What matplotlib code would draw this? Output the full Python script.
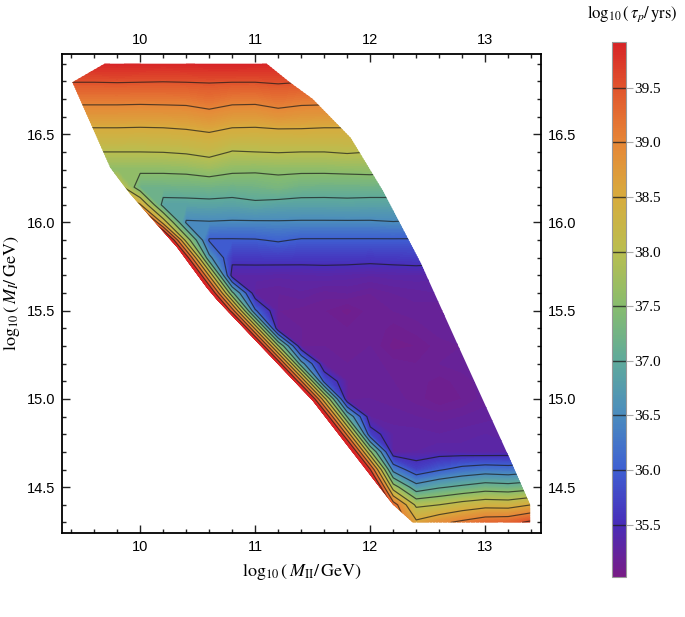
import numpy as np
import matplotlib
matplotlib.use("Agg")
import matplotlib.pyplot as plt
from matplotlib.colors import LinearSegmentedColormap, Normalize
from matplotlib.patches import Polygon
from matplotlib.ticker import MultipleLocator
import matplotlib.cm as cm

plt.rcParams['mathtext.fontset'] = 'stix'

# grid of log10(M_II/GeV) columns and log10(M_I/GeV) rows
m2_cols = [9.4, 9.6, 9.8, 10.0, 10.2, 10.4, 10.6, 10.8, 11.0, 11.2, 11.4,
           11.6, 11.8, 12.0, 12.2, 12.4, 12.6, 12.8, 13.0, 13.2, 13.4]
m1_rows = [16.9, 16.8, 16.7, 16.6, 16.5, 16.4, 16.3, 16.2, 16.1, 16.0, 15.9,
           15.8, 15.7, 15.6, 15.5, 15.4, 15.3, 15.2, 15.1, 15.0, 14.9,
           14.8, 14.7, 14.6, 14.5, 14.4, 14.3]

# log10(tau_p / yrs), one list per row (top to bottom)
tau_169 = [39.90, 39.90, 39.91, 39.90, 39.89, 39.90, 39.92, 39.93, 39.91, 39.90, 39.90,
           39.90, 39.90, 39.90, 39.90, 39.90, 39.90, 39.90, 39.90, 39.90, 39.90]
tau_168 = [39.52, 39.52, 39.53, 39.52, 39.51, 39.52, 39.53, 39.52, 39.52, 39.55, 39.52,
           39.52, 39.52, 39.52, 39.52, 39.52, 39.52, 39.52, 39.52, 39.52, 39.52]
tau_167 = [39.13, 39.13, 39.13, 39.12, 39.13, 39.14, 39.22, 39.13, 39.12, 39.20, 39.14,
           39.13, 39.13, 39.13, 39.13, 39.13, 39.13, 39.13, 39.13, 39.13, 39.13]
tau_166 = [38.74, 38.74, 38.74, 38.73, 38.74, 38.76, 38.84, 38.74, 38.73, 38.82, 38.76,
           38.74, 38.74, 38.74, 38.74, 38.74, 38.74, 38.74, 38.74, 38.74, 38.74]
tau_165 = [38.36, 38.36, 38.36, 38.35, 38.36, 38.40, 38.46, 38.36, 38.35, 38.36, 38.38,
           38.36, 38.36, 38.36, 38.36, 38.36, 38.36, 38.36, 38.36, 38.36, 38.36]
tau_164 = [38.00, 38.00, 38.00, 38.00, 38.01, 38.05, 38.14, 37.98, 38.00, 38.02, 38.00,
           38.00, 38.04, 38.00, 38.00, 38.00, 38.00, 38.00, 38.00, 38.00, 38.00]
tau_163 = [37.58, 37.58, 37.58, 37.58, 37.58, 37.60, 37.68, 37.58, 37.56, 37.58, 37.58,
           37.58, 37.60, 37.62, 37.58, 37.58, 37.58, 37.58, 37.58, 37.58, 37.58]
tau_162 = [37.90, 37.90, 38.30, 37.21, 37.21, 37.22, 37.24, 37.21, 37.24, 37.32, 37.22,
           37.21, 37.21, 37.21, 37.21, 37.21, 37.21, 37.21, 37.21, 37.21, 37.21]
tau_161 = [39.00, 39.00, 39.00, 38.55, 36.85, 36.86, 36.88, 36.85, 36.92, 36.86, 36.85,
           36.85, 36.87, 36.85, 36.85, 36.85, 36.85, 36.85, 36.85, 36.85, 36.85]
tau_160 = [41.00, 41.00, 41.00, 41.00, 38.32, 36.45, 36.47, 36.45, 36.45, 36.46, 36.45,
           36.45, 36.45, 36.45, 36.48, 36.45, 36.45, 36.45, 36.45, 36.45, 36.45]
tau_159 = [42.00, 42.00, 42.00, 42.00, 41.00, 37.82, 35.96, 35.96, 35.97, 36.04, 35.96,
           35.96, 35.96, 35.96, 35.96, 35.96, 35.96, 35.96, 35.96, 35.96, 35.96]
tau_158 = [42.00, 42.00, 42.00, 42.00, 42.00, 39.82, 36.62, 35.62, 35.62, 35.63, 35.62,
           35.62, 35.62, 35.60, 35.62, 35.64, 35.62, 35.62, 35.62, 35.62, 35.62]
tau_157 = [42.00, 42.00, 42.00, 42.00, 42.00, 41.66, 38.46, 35.32, 35.33, 35.31, 35.32,
           35.34, 35.32, 35.30, 35.32, 35.33, 35.31, 35.32, 35.33, 35.32, 35.32]
tau_156 = [42.00, 42.00, 42.00, 42.00, 42.00, 42.00, 40.32, 37.12, 35.24, 35.22, 35.25,
           35.20, 35.22, 35.18, 35.22, 35.24, 35.26, 35.25, 35.24, 35.26, 35.25]
tau_155 = [42.00, 42.00, 42.00, 42.00, 42.00, 42.00, 42.00, 39.26, 36.06, 35.18, 35.16,
           35.14, 35.08, 35.16, 35.18, 35.20, 35.18, 35.16, 35.20, 35.22, 35.22]
tau_154 = [42.00, 42.00, 42.00, 42.00, 42.00, 42.00, 42.00, 41.60, 38.40, 35.20, 35.18,
           35.16, 35.14, 35.18, 35.12, 35.16, 35.20, 35.18, 35.20, 35.22, 35.22]
tau_153 = [42.00, 42.00, 42.00, 42.00, 42.00, 42.00, 42.00, 42.00, 40.75, 37.55, 35.17,
           35.18, 35.16, 35.18, 35.08, 35.10, 35.16, 35.18, 35.20, 35.20, 35.20]
tau_152 = [42.00, 42.00, 42.00, 42.00, 42.00, 42.00, 42.00, 42.00, 42.00, 39.90, 36.70,
           35.20, 35.18, 35.20, 35.16, 35.14, 35.18, 35.20, 35.22, 35.20, 35.20]
tau_151 = [42.00, 42.00, 42.00, 42.00, 42.00, 42.00, 42.00, 42.00, 42.00, 42.00, 39.06,
           35.86, 35.22, 35.20, 35.18, 35.16, 35.12, 35.16, 35.20, 35.22, 35.22]
tau_150 = [42.00, 42.00, 42.00, 42.00, 42.00, 42.00, 42.00, 42.00, 42.00, 42.00, 41.40,
           38.20, 35.20, 35.22, 35.20, 35.16, 35.10, 35.14, 35.20, 35.22, 35.22]
tau_149 = [42.00, 42.00, 42.00, 42.00, 42.00, 42.00, 42.00, 42.00, 42.00, 42.00, 42.00,
           40.16, 36.96, 35.25, 35.24, 35.22, 35.20, 35.22, 35.24, 35.26, 35.26]
tau_148 = [42.00, 42.00, 42.00, 42.00, 42.00, 42.00, 42.00, 42.00, 42.00, 42.00, 42.00,
           42.00, 38.88, 35.68, 35.28, 35.28, 35.26, 35.28, 35.30, 35.28, 35.30]
tau_147 = [42.00, 42.00, 42.00, 42.00, 42.00, 42.00, 42.00, 42.00, 42.00, 42.00, 42.00,
           42.00, 40.80, 37.60, 35.25, 35.30, 35.34, 35.32, 35.30, 35.32, 35.34]
tau_146 = [42.00, 42.00, 42.00, 42.00, 42.00, 42.00, 42.00, 42.00, 42.00, 42.00, 42.00,
           42.00, 42.00, 39.52, 36.32, 35.70, 35.95, 36.15, 36.25, 36.20, 36.30]
tau_145 = [42.00, 42.00, 42.00, 42.00, 42.00, 42.00, 42.00, 42.00, 42.00, 42.00, 42.00,
           42.00, 42.00, 41.00, 37.76, 36.70, 36.95, 37.10, 37.25, 37.20, 37.30]
tau_144 = [42.00, 42.00, 42.00, 42.00, 42.00, 42.00, 42.00, 42.00, 42.00, 42.00, 42.00,
           42.00, 42.00, 42.00, 39.26, 37.90, 38.00, 38.20, 38.33, 38.30, 38.50]
tau_143 = [42.00, 42.00, 42.00, 42.00, 42.00, 42.00, 42.00, 42.00, 42.00, 42.00, 42.00,
           42.00, 42.00, 42.00, 39.50, 38.60, 38.90, 39.10, 39.30, 39.35, 39.60]

# outline of the allowed region
edge_m2 = [9.41, 9.69, 11.10, 11.30, 11.50, 11.83, 12.11, 12.44, 12.78, 13.20, 13.39,
           13.39, 12.37, 12.20, 11.50, 10.67, 10.58, 10.32, 10.09, 9.91, 9.74]
edge_m1 = [16.795, 16.90, 16.90, 16.795, 16.70, 16.48, 16.18, 15.77, 15.28, 14.68, 14.40,
           14.30, 14.30, 14.40, 14.99, 15.56, 15.63, 15.86, 16.03, 16.165, 16.31]

contour_levels = [35.5, 36.0, 36.5, 37.0, 37.5, 38.0, 38.5, 39.0, 39.5]
cbar_ticks = contour_levels
tau_min, tau_max = 35.02, 39.92

rainbow = LinearSegmentedColormap.from_list("rainbow_m", [
    (0.000, (120/255, 28/255, 134/255)),
    (0.098, (72/255, 45/255, 185/255)),
    (0.200, (62/255, 95/255, 210/255)),
    (0.302, (75/255, 140/255, 190/255)),
    (0.404, (95/255, 170/255, 155/255)),
    (0.506, (135/255, 188/255, 110/255)),
    (0.608, (185/255, 190/255, 80/255)),
    (0.710, (215/255, 172/255, 62/255)),
    (0.812, (230/255, 135/255, 55/255)),
    (0.914, (225/255, 85/255, 45/255)),
    (1.000, (215/255, 35/255, 38/255)),
])
norm = Normalize(tau_min, tau_max)

tau = np.array([tau_169, tau_168, tau_167, tau_166, tau_165, tau_164, tau_163, tau_162,
                tau_161, tau_160, tau_159, tau_158, tau_157, tau_156, tau_155, tau_154,
                tau_153, tau_152, tau_151, tau_150, tau_149, tau_148, tau_147, tau_146,
                tau_145, tau_144, tau_143])
X, Y = np.meshgrid(m2_cols, m1_rows)

fig = plt.figure(figsize=(6.85, 6.17), dpi=100)
ax = fig.add_axes([0.0905, 0.1361, 0.6993, 0.7764])

region = Polygon(np.column_stack([edge_m2, edge_m1]), closed=True,
                 facecolor='none', edgecolor='none', transform=ax.transData)
ax.add_patch(region)

fill = ax.contourf(X, Y, tau, levels=np.arange(34.9, 42.05, 0.04),
                   cmap=rainbow, norm=norm)
fill.set_clip_path(region)
lines = ax.contour(X, Y, tau, levels=contour_levels, colors='#1a1a1a',
                   linewidths=0.85, alpha=0.7)
lines.set_clip_path(region)

ax.set_xlim(9.32, 13.485)
ax.set_ylim(14.24, 16.955)
ax.xaxis.set_major_locator(MultipleLocator(1))
ax.xaxis.set_minor_locator(MultipleLocator(0.2))
ax.yaxis.set_major_locator(MultipleLocator(0.5))
ax.yaxis.set_minor_locator(MultipleLocator(0.1))
ax.yaxis.set_major_formatter(plt.FuncFormatter(lambda v, p: f"{v:.1f}"))
ax.tick_params(which='both', direction='in', top=True, right=True,
               labeltop=True, labelright=True, width=1.0, color='#222222')
ax.tick_params(which='major', length=6, labelsize=10.5, pad=5)
ax.tick_params(which='minor', length=3)
for lab in ax.get_xticklabels() + ax.get_yticklabels():
    lab.set_fontfamily('Liberation Sans')
for sp in ax.spines.values():
    sp.set_linewidth(1.3)

ax.set_xlabel(r'$\log_{10}(\,M_{\rm II}/\,{\rm GeV})$', fontsize=13, labelpad=6)
ax.set_ylabel(r'$\log_{10}(\,M_{I}/\,{\rm GeV})$', fontsize=13, labelpad=3)

cax = fig.add_axes([0.8934, 0.0648, 0.0205, 0.8671])
sm = cm.ScalarMappable(norm=norm, cmap=rainbow)
cb = fig.colorbar(sm, cax=cax, ticks=cbar_ticks)
cb.outline.set_edgecolor('#999999')
cb.outline.set_linewidth(0.8)
for lv in contour_levels:
    cax.axhline(lv, color='#222222', lw=1.0, alpha=0.8)
cax.tick_params(length=5, width=0.8, color='#aaaaaa', labelsize=11, pad=1)
cax.yaxis.set_major_formatter(plt.FuncFormatter(lambda v, p: f"{v:.1f}"))
for lab in cax.get_yticklabels():
    lab.set_fontfamily('Liberation Serif')

fig.text(632/685, 1 - 14/617, r'$\log_{10}(\,\tau_p/\,{\rm yrs})$',
         ha='center', va='center', fontsize=12)

fig.savefig("out.png", dpi=100)
